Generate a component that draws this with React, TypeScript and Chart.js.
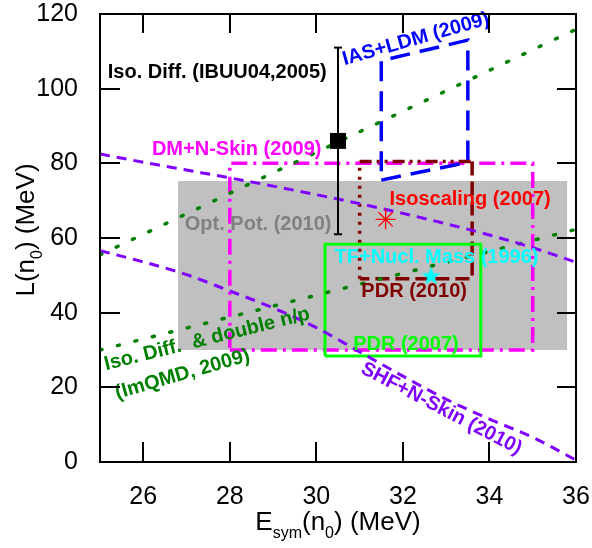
import React, { useEffect, useRef } from "react";
import { Chart, registerables } from "chart.js";

Chart.register(...registerables);

const FONT = "'Liberation Sans', Arial, Helvetica, sans-serif";

// Axis ranges / ticks
const xRange = [25, 36];
const yRange = [0, 120];
const xMajorStep = 2;
const yMajorStep = 20;

// Opt. Pot. (2010) grey band
const optPotEsym = [26.8, 35.8];
const optPotL = [30, 75.3];

// DM+N-Skin (2009) box
const dmSkinEsym = [28, 35];
const dmSkinL = [30, 80];

// IAS+LDM (2009) parallelogram
const iasEsym = [31.5, 33.5, 33.5, 31.5, 31.5];
const iasL = [75.5, 80.3, 113, 107.5, 75.5];

// PDR (2010) box
const pdr2010Esym = [31.0, 33.6];
const pdr2010L = [49.1, 80.5];

// PDR (2007) box
const pdr2007Esym = [30.2, 33.8];
const pdr2007L = [28.4, 58.3];

// Isoscaling (2007) point
const isoscalingEsym = [31.6];
const isoscalingL = [65];

// TF + Nucl. Mass (1996) point
const tfEsym = [32.65];
const tfL = [50];

// Iso. Diff. (IBUU04, 2005) point with error bar
const ibuuEsym = [30.5];
const ibuuL = [86];
const ibuuLow = [61];
const ibuuHigh = [111];

// ImQMD (2009) dotted lines
const imqmdEsym = [25, 36];
const imqmdUpperL = [55.5, 115.9];
const imqmdLowerL = [30, 62.3];

// SHF+N-Skin (2010) dashed curves
const shfEsym = [25, 26, 27, 28, 29, 30, 31, 32, 33, 34, 35, 36];
const shfUpperL = [82.5, 80.3, 78.2, 76.1, 73.9, 71.6, 69.2, 66.6, 63.8, 60.8, 57.4, 53.5];
const shfLowerL = [56.6, 53.6, 50.2, 45.8, 41.3, 36.0, 29.5, 23.0, 16.8, 11.5, 6.6, 0.5];

// Text annotations (anchored in data coordinates)
const annotationTexts = [
  "Iso. Diff. (IBUU04,2005)",
  "DM+N-Skin (2009)",
  "Opt. Pot. (2010)",
  "Isoscaling (2007)",
  "TF+Nucl. Mass (1996)",
  "PDR (2010)",
  "PDR (2007)",
  "IAS+LDM (2009)",
  "SHF+N-Skin (2010)",
  "Iso. Diff.  & double n/p",
  "(ImQMD, 2009)",
];
const annotationEsym = [25.18, 26.2, 26.96, 31.69, 30.42, 31.04, 30.85, 30.65, 31.0, 25.14, 25.4];
const annotationL = [102.9, 82.2, 62.1, 68.8, 53.3, 44.2, 30.0, 106.3, 24.0, 24.6, 16.9];
const annotationColors = [
  "#000000", "#ff00ff", "#808080", "#ff0000", "#00ffff", "#800000",
  "#00ff00", "#0000ff", "#8000ff", "#008000", "#008000",
];
const annotationAngles = [0, 0, 0, 0, 0, 0, 0, -15.8, 27.5, -14, -16];

const pts = (xs: number[], ys: number[]) => xs.map((x, i) => ({ x, y: ys[i] }));
const rect = (xs: number[], ys: number[]) => [
  { x: xs[0], y: ys[0] },
  { x: xs[1], y: ys[0] },
  { x: xs[1], y: ys[1] },
  { x: xs[0], y: ys[1] },
  { x: xs[0], y: ys[0] },
];

function makeStar(color: string, outer: number) {
  const size = Math.ceil(outer * 2 + 4);
  const c = document.createElement("canvas");
  c.width = size;
  c.height = size;
  const ctx = c.getContext("2d")!;
  const cx = size / 2;
  const cy = size / 2 + 1;
  const inner = outer * 0.4;
  ctx.beginPath();
  for (let i = 0; i < 10; i++) {
    const r = i % 2 === 0 ? outer : inner;
    const a = -Math.PI / 2 + (i * Math.PI) / 5;
    const px = cx + r * Math.cos(a);
    const py = cy + r * Math.sin(a);
    if (i === 0) ctx.moveTo(px, py);
    else ctx.lineTo(px, py);
  }
  ctx.closePath();
  ctx.fillStyle = color;
  ctx.fill();
  return c;
}

const framePlugin = {
  id: "frame",
  afterDraw(chart: any) {
    const { ctx, chartArea } = chart;
    const { left, right, top, bottom } = chartArea;
    const xs = chart.scales.x;
    const ys = chart.scales.y;
    ctx.save();
    ctx.strokeStyle = "#000";
    ctx.lineWidth = 2;
    ctx.lineCap = "butt";
    ctx.beginPath();
    ctx.rect(left, top, right - left, bottom - top);
    ctx.stroke();
    ctx.beginPath();
    xs.ticks.forEach((t: any) => {
      const px = Math.round(xs.getPixelForValue(t.value));
      const major = Math.abs(t.value % xMajorStep) < 1e-6;
      const lenB = major ? 20 : 11;
      const lenT = major ? 19 : 10;
      ctx.moveTo(px, bottom);
      ctx.lineTo(px, bottom - lenB);
      ctx.moveTo(px, top);
      ctx.lineTo(px, top + lenT);
    });
    ys.ticks.forEach((t: any) => {
      const py = Math.round(ys.getPixelForValue(t.value));
      const major = Math.abs(t.value % yMajorStep) < 1e-6;
      const lenL = major ? 20 : 10;
      ctx.moveTo(left, py);
      ctx.lineTo(left + lenL, py);
      ctx.moveTo(right, py);
      ctx.lineTo(right - 19, py);
    });
    ctx.stroke();

    // axis titles with subscripts
    const big = `26px ${FONT}`;
    const small = `16px ${FONT}`;
    const xParts: [string, string, number][] = [
      ["E", big, 0],
      ["sym", small, 8],
      ["(n", big, 0],
      ["0", small, 8],
      [") (MeV)", big, 0],
    ];
    const yParts: [string, string, number][] = [
      ["L(n", big, 0],
      ["0", small, 8],
      [") (MeV)", big, 0],
    ];
    const measure = (parts: [string, string, number][]) =>
      parts.reduce((w, p) => {
        ctx.font = p[1];
        return w + ctx.measureText(p[0]).width;
      }, 0);
    ctx.fillStyle = "#000";
    ctx.textBaseline = "alphabetic";
    ctx.textAlign = "left";
    // x title
    let w = measure(xParts);
    let cx = (left + right) / 2 - w / 2;
    for (const p of xParts) {
      ctx.font = p[1];
      ctx.fillText(p[0], cx, 530 + p[2]);
      cx += ctx.measureText(p[0]).width;
    }
    // y title
    w = measure(yParts);
    ctx.translate(34, (top + bottom) / 2 - 8);
    ctx.rotate(-Math.PI / 2);
    let cy = -w / 2;
    for (const p of yParts) {
      ctx.font = p[1];
      ctx.fillText(p[0], cy, p[2]);
      cy += ctx.measureText(p[0]).width;
    }
    ctx.restore();
  },
};

const labelPlugin = {
  id: "labels",
  afterDatasetsDraw(chart: any) {
    const { ctx } = chart;
    const xs = chart.scales.x;
    const ys = chart.scales.y;
    ctx.save();
    ctx.font = `bold 20px ${FONT}`;
    ctx.textAlign = "left";
    ctx.textBaseline = "alphabetic";
    annotationTexts.forEach((t, i) => {
      const px = xs.getPixelForValue(annotationEsym[i]);
      const py = ys.getPixelForValue(annotationL[i]);
      ctx.save();
      ctx.translate(px, py);
      ctx.rotate((annotationAngles[i] * Math.PI) / 180);
      ctx.fillStyle = annotationColors[i];
      ctx.fillText(t, 0, 0);
      ctx.restore();
    });
    ctx.restore();
  },
};

const zeroPadding = (s: any) => {
  s.paddingTop = 0;
  s.paddingBottom = 0;
  s.paddingLeft = 0;
  s.paddingRight = 0;
};

export default function App() {
  const ref = useRef<HTMLCanvasElement>(null);

  useEffect(() => {
    if (!ref.current) return;
    const cyanStar = makeStar("#00ffff", 10);
    const line = {
      showLine: true,
      pointRadius: 0,
      pointHoverRadius: 0,
      fill: false,
      tension: 0,
    };
    const chart = new Chart(ref.current, {
      type: "scatter",
      data: {
        datasets: [
          // markers (top-most)
          {
            data: pts(ibuuEsym, ibuuL),
            pointStyle: "rect",
            pointRadius: 11.3,
            pointBackgroundColor: "#000",
            pointBorderColor: "#000",
            pointBorderWidth: 0,
            order: 1,
          },
          {
            ...line,
            data: [
              { x: ibuuEsym[0], y: ibuuLow[0] },
              { x: ibuuEsym[0], y: ibuuHigh[0] },
            ],
            borderColor: "#000",
            borderWidth: 2,
            pointStyle: "line",
            pointRadius: 4,
            pointBorderColor: "#000",
            pointBorderWidth: 2,
            order: 2,
          },
          {
            data: pts(isoscalingEsym, isoscalingL),
            pointStyle: "star",
            pointRadius: 10,
            pointBorderColor: "#ff0000",
            pointBorderWidth: 1.3,
            order: 1,
          },
          {
            data: pts(tfEsym, tfL),
            pointStyle: cyanStar,
            pointRadius: 10,
            order: 1,
          },
          // curves
          {
            ...line,
            data: pts(shfEsym, shfUpperL),
            borderColor: "#8000ff",
            borderWidth: 3,
            borderDash: [10, 7],
            cubicInterpolationMode: "monotone",
            order: 5,
          },
          {
            ...line,
            data: pts(shfEsym, shfLowerL),
            borderColor: "#8000ff",
            borderWidth: 3,
            borderDash: [10, 7],
            cubicInterpolationMode: "monotone",
            order: 5,
          },
          {
            ...line,
            data: pts(imqmdEsym, imqmdUpperL),
            borderColor: "#008000",
            borderWidth: 3.5,
            borderDash: [2, 16],
            borderCapStyle: "round",
            order: 5,
          },
          {
            ...line,
            data: pts(imqmdEsym, imqmdLowerL),
            borderColor: "#008000",
            borderWidth: 3.5,
            borderDash: [2, 16],
            borderCapStyle: "round",
            order: 5,
          },
          // boxes
          {
            ...line,
            data: rect(pdr2007Esym, pdr2007L),
            borderColor: "#00ff00",
            borderWidth: 3,
            order: 6,
          },
          {
            ...line,
            data: [
              { x: pdr2010Esym[0], y: pdr2010L[1] },
              { x: pdr2010Esym[1], y: pdr2010L[1] },
            ],
            borderColor: "#800000",
            borderWidth: 3.5,
            borderDash: [12, 5, 3, 5, 3, 5],
            order: 6,
          },
          {
            ...line,
            data: [
              { x: pdr2010Esym[1], y: pdr2010L[1] },
              { x: pdr2010Esym[1], y: pdr2010L[0] },
              { x: pdr2010Esym[0], y: pdr2010L[0] },
            ],
            borderColor: "#800000",
            borderWidth: 3.5,
            borderDash: [14, 6],
            order: 6,
          },
          {
            ...line,
            data: [
              { x: pdr2010Esym[0], y: pdr2010L[0] },
              { x: pdr2010Esym[0], y: pdr2010L[1] },
            ],
            borderColor: "#800000",
            borderWidth: 3.5,
            borderDash: [3, 6],
            order: 6,
          },
          {
            ...line,
            data: pts(iasEsym, iasL),
            borderColor: "#0000ff",
            borderWidth: 3.5,
            borderDash: [20, 10],
            order: 6,
          },
          {
            ...line,
            data: rect(dmSkinEsym, dmSkinL),
            borderColor: "#ff00ff",
            borderWidth: 3.5,
            borderDash: [16, 6, 3, 6],
            order: 7,
          },
          // grey band
          {
            ...line,
            data: [
              { x: optPotEsym[0], y: optPotL[1] },
              { x: optPotEsym[1], y: optPotL[1] },
            ],
            borderWidth: 0,
            borderColor: "rgba(0,0,0,0)",
            backgroundColor: "#c0c0c0",
            fill: { value: optPotL[0] },
            order: 10,
          },
        ] as any,
      },
      options: {
        animation: false,
        responsive: false,
        events: [],
        layout: { padding: { top: 14, right: 16, left: 0, bottom: 0 } },
        plugins: {
          legend: { display: false },
          tooltip: { enabled: false },
        },
        scales: {
          x: {
            type: "linear",
            min: xRange[0],
            max: xRange[1],
            grid: { display: false, drawTicks: false },
            border: { display: false },
            ticks: {
              stepSize: 1,
              autoSkip: false,
              maxRotation: 0,
              padding: 20,
              color: "#000",
              font: { size: 25, family: FONT },
              callback: (v: any) => (Math.abs(v % xMajorStep) < 1e-6 ? String(v) : null),
            },
            afterFit: (s: any) => {
              s.height = 86;
              zeroPadding(s);
            },
          },
          y: {
            type: "linear",
            min: yRange[0],
            max: yRange[1],
            grid: { display: false, drawTicks: false },
            border: { display: false },
            ticks: {
              stepSize: 10,
              autoSkip: false,
              padding: 22,
              color: "#000",
              font: { size: 25, family: FONT },
              callback: (v: any) => (Math.abs(v % yMajorStep) < 1e-6 ? String(v) : null),
            },
            afterFit: (s: any) => {
              s.width = 100;
              zeroPadding(s);
            },
          },
        },
      } as any,
      plugins: [labelPlugin, framePlugin],
    });
    return () => chart.destroy();
  }, []);

  return (
    <div style={{ position: "absolute", left: 0, top: 0, width: 592, height: 548, background: "#fff" }}>
      <canvas ref={ref} width={592} height={548} style={{ display: "block" }} />
    </div>
  );
}
